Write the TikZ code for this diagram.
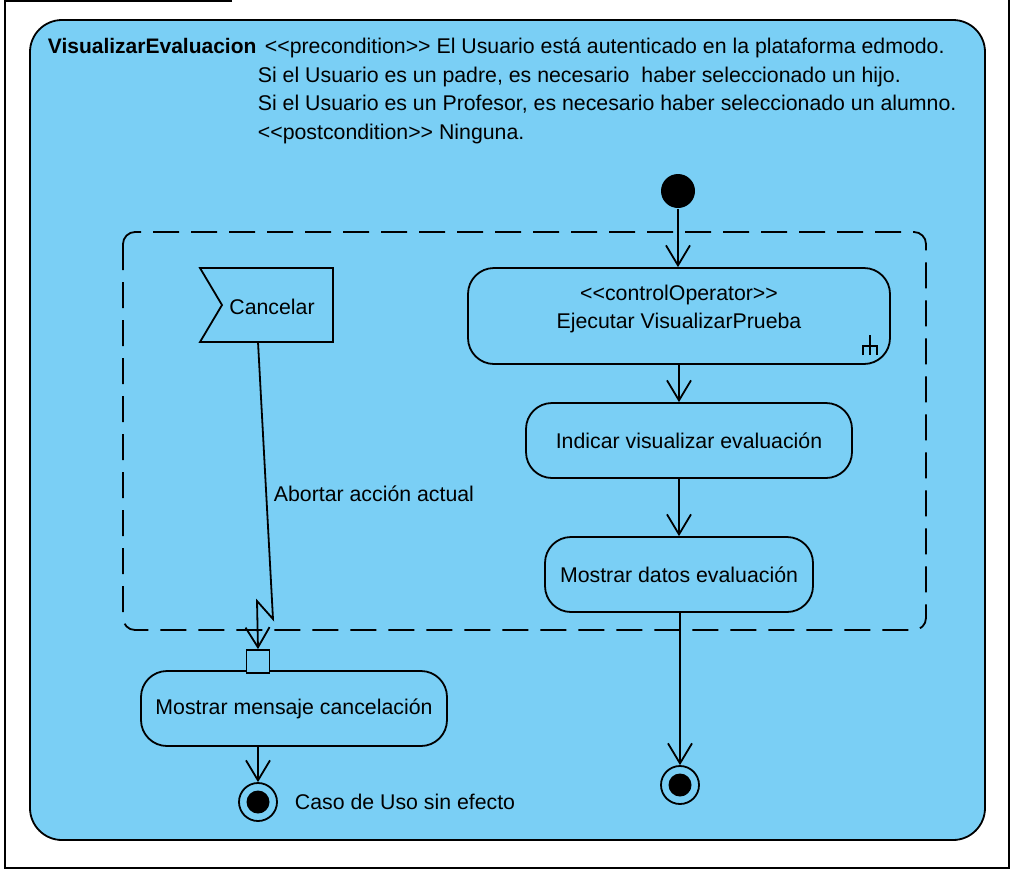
\documentclass[tikz,border=0pt]{standalone}
\usepackage{fontspec}
\setmainfont{Liberation Sans}
\usetikzlibrary{arrows.meta}
\definecolor{regionblue}{RGB}{122,207,245}
\newcommand{\guil}[1]{<{}<#1>{}>}

\begin{document}
\begin{tikzpicture}[x=1pt,y=-1pt,line width=1.8pt,
  txt/.style={font=\fontsize{21.3}{28}\selectfont},
  action/.style={draw,rounded corners=26pt,txt,align=center,inner sep=0pt,fill=regionblue},
  flow/.style={-{Straight Barb[length=20pt,width=24pt,line width=1.8pt]}},
  initial/.style={circle,fill=black,minimum size=34pt,inner sep=0pt},
  final/.style={circle,draw,fill=regionblue,minimum size=38pt,inner sep=0pt,
    path picture={\fill[black] (path picture bounding box.center) circle (11.5pt);}},
  pin/.style={draw,fill=regionblue,minimum size=23pt,inner sep=0pt}]

\useasboundingbox (0,0) rectangle (1012,871);

% diagram frame
\draw[line width=2pt] (232,1) -- (5,1) -- (5,868) -- (1009,868) -- (1009,0);

% activity body
\draw[fill=regionblue,rounded corners=32pt] (30,20) rectangle (985,840);

\node[txt,font=\fontsize{21}{29}\selectfont\bfseries,anchor=base west,inner sep=0pt] (title) at (47,53) {VisualizarEvaluacion};
\node[txt,anchor=base west,inner sep=0pt] (pre1) at (264,53) {\guil{precondition} El Usuario está autenticado en la plataforma edmodo.};
\node[txt,anchor=base west,inner sep=0pt] (pre2) at (257,82) {Si el Usuario es un padre, es necesario\ \ haber seleccionado un hijo.};
\node[txt,anchor=base west,inner sep=0pt] (pre3) at (257,110) {Si el Usuario es un Profesor, es necesario haber seleccionado un alumno.};
\node[txt,anchor=base west,inner sep=0pt] (post) at (257,139) {\guil{postcondition} Ninguna.};

% interruptible region
\draw[dash pattern=on 26pt off 12pt,rounded corners=12pt] (123,232) rectangle (926,630);

% initial node and main flow
\node[initial] (start) at (678,191) {};
\node[action,minimum width=422pt,minimum height=96pt] (ctrl) at (679,316) {};
\node[txt,align=center,inner sep=0pt] (ctrltext) at (679,309)
  {\guil{controlOperator}\\Ejecutar VisualizarPrueba};
\node[action,minimum width=326pt,minimum height=75pt] (indicar) at (689,440.5)
  {Indicar visualizar evaluación};
\node[action,minimum width=268pt,minimum height=75pt] (datos) at (679,574.5)
  {Mostrar datos evaluación};
\node[final] (end) at (680,785) {};

% rake symbol of the call behavior action
\draw[line width=1.4pt] (870,335) -- (870,355) (863,355) -- (863,346) -- (877,346) -- (877,355);

\draw[flow] (start) -- (start |- ctrl.north);
\draw[flow] (ctrl.south) -- (ctrl.south |- indicar.north);
\draw[flow] (indicar.south -| ctrl.south) -- (ctrl.south |- datos.north);
\draw[flow] (datos.south -| end) -- (end);

% accept event action
\coordinate (cA) at (200,268);
\coordinate (cB) at (333,268);
\coordinate (cC) at (333,342);
\coordinate (cD) at (200,342);
\coordinate (cN) at (222,305);
\draw[fill=regionblue] (cA) -- (cB) -- (cC) -- (cD) -- (cN) -- cycle;
\node[txt] (cancel) at (272,307) {Cancelar};
\coordinate (cOut) at (258,342);

% cancellation branch
\node[action,minimum width=306pt,minimum height=75pt] (mensaje) at (294,708.5)
  {Mostrar mensaje cancelación};
\node[pin] (inpin) at (258,661.5) {};
\node[final] (endc) at (258,802) {};
\node[txt,anchor=west,inner sep=0pt] (sinefecto) at (294,802) {Caso de Uso sin efecto};

\coordinate (z1) at (273,619);
\coordinate (z2) at (257,601);
\draw[flow] (cOut) -- (z1) -- (z2) -- (inpin.north);
\node[txt,anchor=west,inner sep=0pt] (abort) at (273,494) {Abortar acción actual};

\draw[flow] (mensaje.south -| endc) -- (endc);

\end{tikzpicture}
\end{document}
